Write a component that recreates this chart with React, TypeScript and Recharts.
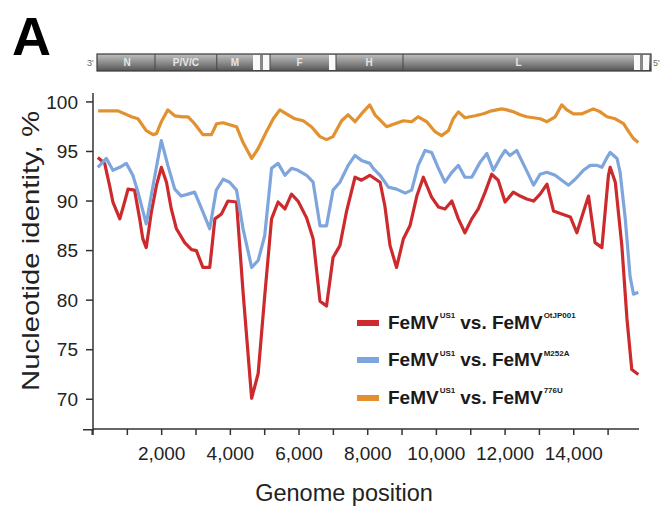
import React from "react";
import { LineChart, Line, XAxis, YAxis, Legend, Label } from "recharts";

// genome positions (nt) and % identity
const redPos = [140, 340, 480, 580, 780, 920, 1020, 1210, 1360, 1450, 1550, 1700, 1850, 1990, 2140, 2280, 2430, 2670, 2870, 3010, 3200, 3400, 3550, 3740, 3930, 4180, 4370, 4620, 4810, 5000, 5200, 5390, 5590, 5780, 5970, 6220, 6410, 6610, 6800, 6990, 7190, 7380, 7630, 7820, 8060, 8360, 8500, 8650, 8840, 9040, 9230, 9430, 9620, 9860, 10060, 10250, 10450, 10640, 10830, 11030, 11220, 11420, 11610, 11800, 12000, 12240, 12440, 12630, 12830, 13020, 13220, 13410, 13650, 13900, 14090, 14280, 14430, 14620, 14820, 15010, 15060, 15210, 15400, 15550, 15690, 15880];
const redVal = [94.4, 93.8, 91.6, 89.9, 88.2, 89.9, 91.2, 91.1, 88.2, 86.2, 85.3, 88.9, 91.6, 93.4, 91.9, 89.2, 87.2, 85.8, 85.1, 85.0, 83.3, 83.3, 88.2, 88.7, 90.0, 89.9, 80.8, 70.1, 72.6, 80.4, 88.2, 89.9, 89.2, 90.7, 90.0, 88.3, 86.2, 79.9, 79.4, 84.3, 85.5, 88.9, 92.4, 92.1, 92.6, 91.9, 89.5, 85.5, 83.3, 86.2, 87.5, 90.5, 92.4, 90.4, 89.4, 89.2, 90.0, 88.2, 86.8, 88.2, 89.2, 90.9, 92.7, 92.1, 89.9, 90.9, 90.5, 90.2, 90.0, 90.7, 91.7, 89.0, 88.7, 88.4, 86.8, 88.9, 90.5, 85.8, 85.3, 92.6, 93.4, 91.9, 85.5, 78.1, 73.0, 72.5];

const bluePos = [140, 390, 580, 780, 970, 1160, 1310, 1550, 1750, 1990, 2180, 2380, 2570, 2770, 2960, 3200, 3400, 3590, 3790, 3980, 4180, 4370, 4620, 4810, 5000, 5200, 5390, 5590, 5780, 5970, 6220, 6410, 6610, 6800, 6990, 7190, 7430, 7630, 7820, 8060, 8160, 8360, 8600, 8840, 9090, 9280, 9470, 9670, 9860, 10060, 10250, 10450, 10640, 10830, 11030, 11270, 11470, 11660, 11850, 12000, 12140, 12340, 12580, 12830, 13020, 13220, 13460, 13650, 13850, 14040, 14280, 14480, 14670, 14820, 14970, 15060, 15260, 15350, 15500, 15640, 15740, 15880];
const blueVal = [93.4, 94.3, 93.1, 93.4, 93.8, 92.6, 90.9, 87.7, 91.6, 96.1, 93.6, 91.2, 90.5, 90.7, 90.9, 88.9, 87.2, 91.1, 92.2, 91.9, 91.1, 87.2, 83.3, 84.0, 86.5, 93.3, 93.8, 92.6, 93.3, 93.1, 92.6, 91.9, 87.5, 87.5, 91.1, 91.9, 93.6, 94.6, 94.1, 93.8, 93.3, 92.6, 91.4, 91.2, 90.8, 91.1, 93.6, 95.1, 94.9, 93.3, 91.9, 92.9, 93.6, 92.4, 92.4, 93.9, 94.8, 93.1, 94.3, 95.1, 94.6, 95.1, 93.4, 91.6, 92.7, 92.9, 92.6, 92.1, 91.6, 92.2, 93.1, 93.6, 93.6, 93.4, 94.4, 94.9, 94.3, 92.9, 88.2, 82.4, 80.6, 80.8];

const orangePos = [150, 730, 1120, 1310, 1550, 1750, 1850, 1990, 2180, 2380, 2620, 2770, 2960, 3200, 3450, 3600, 3790, 3980, 4180, 4370, 4620, 4810, 5050, 5250, 5440, 5680, 5880, 6120, 6360, 6610, 6800, 6990, 7240, 7430, 7630, 7870, 8060, 8210, 8550, 8790, 9040, 9280, 9470, 9720, 9960, 10150, 10350, 10490, 10640, 10830, 11130, 11370, 11610, 11900, 12050, 12240, 12440, 12630, 12830, 13020, 13220, 13460, 13650, 13800, 13990, 14240, 14570, 14770, 14970, 15210, 15450, 15600, 15740, 15880];
const orangeVal = [99.1, 99.1, 98.5, 98.3, 97.1, 96.7, 96.8, 98.0, 99.2, 98.6, 98.5, 98.5, 97.8, 96.7, 96.7, 97.8, 97.9, 97.7, 97.5, 95.9, 94.3, 95.3, 97.0, 98.3, 99.2, 98.7, 98.3, 98.1, 97.5, 96.5, 96.2, 96.5, 98.1, 98.7, 98.0, 99.0, 99.7, 98.7, 97.5, 97.8, 98.1, 98.0, 98.5, 98.0, 97.0, 96.6, 97.1, 98.3, 99.0, 98.4, 98.6, 98.8, 99.1, 99.3, 99.2, 99.0, 98.7, 98.5, 98.4, 98.3, 98.0, 98.5, 99.7, 99.2, 98.8, 98.8, 99.3, 99.0, 98.5, 98.3, 97.8, 97.0, 96.3, 95.9];

const xTicks = [0, 1000, 2000, 3000, 4000, 5000, 6000, 7000, 8000, 9000, 10000, 11000, 12000, 13000, 14000, 15000];
const yTicks = [70, 75, 80, 85, 90, 95, 100];

// genome map on top
const genomeLength = 16050;
const geneLabels = ["N", "P/V/C", "M", "F", "H", "L"];
const geneStart = [60, 1680, 3470, 5012, 6924, 8865];
const geneEnd = [1680, 3470, 4520, 6721, 8836, 15557];
const gapStart = [4520, 6721, 15557];
const gapEnd = [5012, 6924, 15992];

const RED = "#cd2a2e";
const BLUE = "#7ea5dc";
const ORANGE = "#e3902f";
const FONT = "'Liberation Sans', Arial, sans-serif";

const toXY = (pos: number[], val: number[]) => pos.map((p, i) => ({ pos: p, v: val[i] }));

const series = [
  { name: "OtJP001", color: RED, data: toXY(redPos, redVal) },
  { name: "M252A", color: BLUE, data: toXY(bluePos, blueVal) },
  { name: "776U", color: ORANGE, data: toXY(orangePos, orangeVal) },
];

const BAR_X0 = 97;
const BAR_W = 554;
const BAR_Y = 54;
const BAR_H = 17;
const bx = (nt: number) => BAR_X0 + (nt / genomeLength) * BAR_W;

function GenomeMap() {
  return (
    <svg width={661} height={92} style={{ position: "absolute", left: 0, top: 0 }}>
      <defs>
        <linearGradient id="barGrad" x1="0" y1="0" x2="0" y2="1">
          <stop offset="0" stopColor="#c0c0c0" />
          <stop offset="0.45" stopColor="#929292" />
          <stop offset="1" stopColor="#555" />
        </linearGradient>
      </defs>
      <text x={12} y={55} fontFamily={FONT} fontWeight="bold" fontSize={54} fill="#000">A</text>
      <text x={87} y={66} fontFamily={FONT} fontSize={9} fill="#666">3'</text>
      <text x={653} y={66} fontFamily={FONT} fontSize={9} fill="#666">5'</text>
      <rect x={BAR_X0} y={BAR_Y} width={BAR_W} height={BAR_H} fill="url(#barGrad)" stroke="#3a3a3a" strokeWidth={1.2} />
      {gapStart.map((s, i) => (
        <g key={"g" + i}>
          <rect x={bx(s)} y={BAR_Y + 1} width={bx(gapEnd[i]) - bx(s)} height={BAR_H - 2} fill="#fafafa" />
          {i !== 1 && (
            <rect x={(bx(s) + bx(gapEnd[i])) / 2 - 1.5} y={BAR_Y + 1} width={3} height={BAR_H - 2} fill="#888" />
          )}
        </g>
      ))}
      {geneStart.slice(1).map((s, i) => (
        <line key={"d" + i} x1={bx(s)} x2={bx(s)} y1={BAR_Y} y2={BAR_Y + BAR_H} stroke="#444" strokeWidth={1} />
      ))}
      {geneLabels.map((g, i) => (
        <text
          key={g}
          x={(bx(geneStart[i]) + bx(geneEnd[i])) / 2}
          y={BAR_Y + BAR_H / 2 + 3.5}
          textAnchor="middle"
          fontFamily={FONT}
          fontWeight="bold"
          fontSize={10}
          fill="#e6e6e6"
        >
          {g}
        </text>
      ))}
    </svg>
  );
}

function LegendBox() {
  return (
    <div style={{ fontFamily: FONT, color: "#1a1a1a" }}>
      {series.map((s) => (
        <div key={s.name} style={{ display: "flex", alignItems: "center", height: 37.5 }}>
          <div style={{ width: 22, height: 6, background: s.color, marginRight: 9 }} />
          <span style={{ fontWeight: "bold", fontSize: 19 }}>FeMV</span>
          <span style={{ fontWeight: "bold", fontSize: 8, position: "relative", top: -7, marginLeft: 1 }}>US1</span>
          <span style={{ fontWeight: "bold", fontSize: 19, marginLeft: 5 }}>vs. FeMV</span>
          <span style={{ fontWeight: "bold", fontSize: 8, position: "relative", top: -7, marginLeft: 1 }}>{s.name}</span>
        </div>
      ))}
    </div>
  );
}

export default function App() {
  return (
    <div style={{ position: "absolute", left: 0, top: 0, width: 661, height: 506, background: "#fff" }}>
      <GenomeMap />
      <LineChart
        width={661}
        height={506}
        margin={{ top: 93, right: 22, left: 0, bottom: 0 }}
        style={{ position: "absolute", left: 0, top: 0 }}
      >
        <XAxis
          type="number"
          dataKey="pos"
          domain={[0, 15900]}
          ticks={xTicks}
          interval={0}
          height={77}
          tickSize={6}
          tickMargin={12}
          tickFormatter={(v: number) => (v > 0 && v % 2000 === 0 ? v.toLocaleString("en-US") : "")}
          tick={{ fill: "#222", fontSize: 19, fontFamily: FONT }}
          axisLine={{ stroke: "#333", strokeWidth: 1.5 }}
          tickLine={{ stroke: "#333", strokeWidth: 1.5 }}
        >
          <Label
            content={() => (
              <g>
                <line x1={83} x2={94} y1={429.75} y2={429.75} stroke="#333" strokeWidth={1.5} />
                <line x1={92.25} x2={92.25} y1={429} y2={435} stroke="#333" strokeWidth={1.5} />
                <text x={344} y={501} textAnchor="middle" fontFamily={FONT} fontSize={23.5} fill="#222">
                  Genome position
                </text>
              </g>
            )}
          />
        </XAxis>
        <YAxis
          type="number"
          domain={[67, 100.9]}
          ticks={yTicks}
          interval={0}
          width={93}
          tickSize={7}
          tickMargin={8}
          tick={{ fill: "#222", fontSize: 19, fontFamily: FONT }}
          axisLine={{ stroke: "#333", strokeWidth: 1.5 }}
          tickLine={{ stroke: "#333", strokeWidth: 1.5 }}
        >
          <Label
            content={() => (
              <text
                x={30}
                y={251}
                transform="rotate(-90 30 251)"
                textAnchor="middle"
                dominantBaseline="central"
                fontFamily={FONT}
                fontSize={24.5}
                textLength={280}
                lengthAdjust="spacingAndGlyphs"
                fill="#222"
              >
                Nucleotide identity, %
              </text>
            )}
          />
        </YAxis>
        <Legend
          layout="horizontal"
          verticalAlign="middle"
          align="center"
          content={<LegendBox />}
          wrapperStyle={{ position: "absolute", left: 357, top: 304, width: 290 }}
        />
        {series.map((s) => (
          <Line
            key={s.name}
            data={s.data}
            dataKey="v"
            name={s.name}
            type="linear"
            stroke={s.color}
            strokeWidth={3.2}
            strokeLinejoin="round"
            dot={false}
            activeDot={false}
            isAnimationActive={false}
          />
        ))}
      </LineChart>
    </div>
  );
}
